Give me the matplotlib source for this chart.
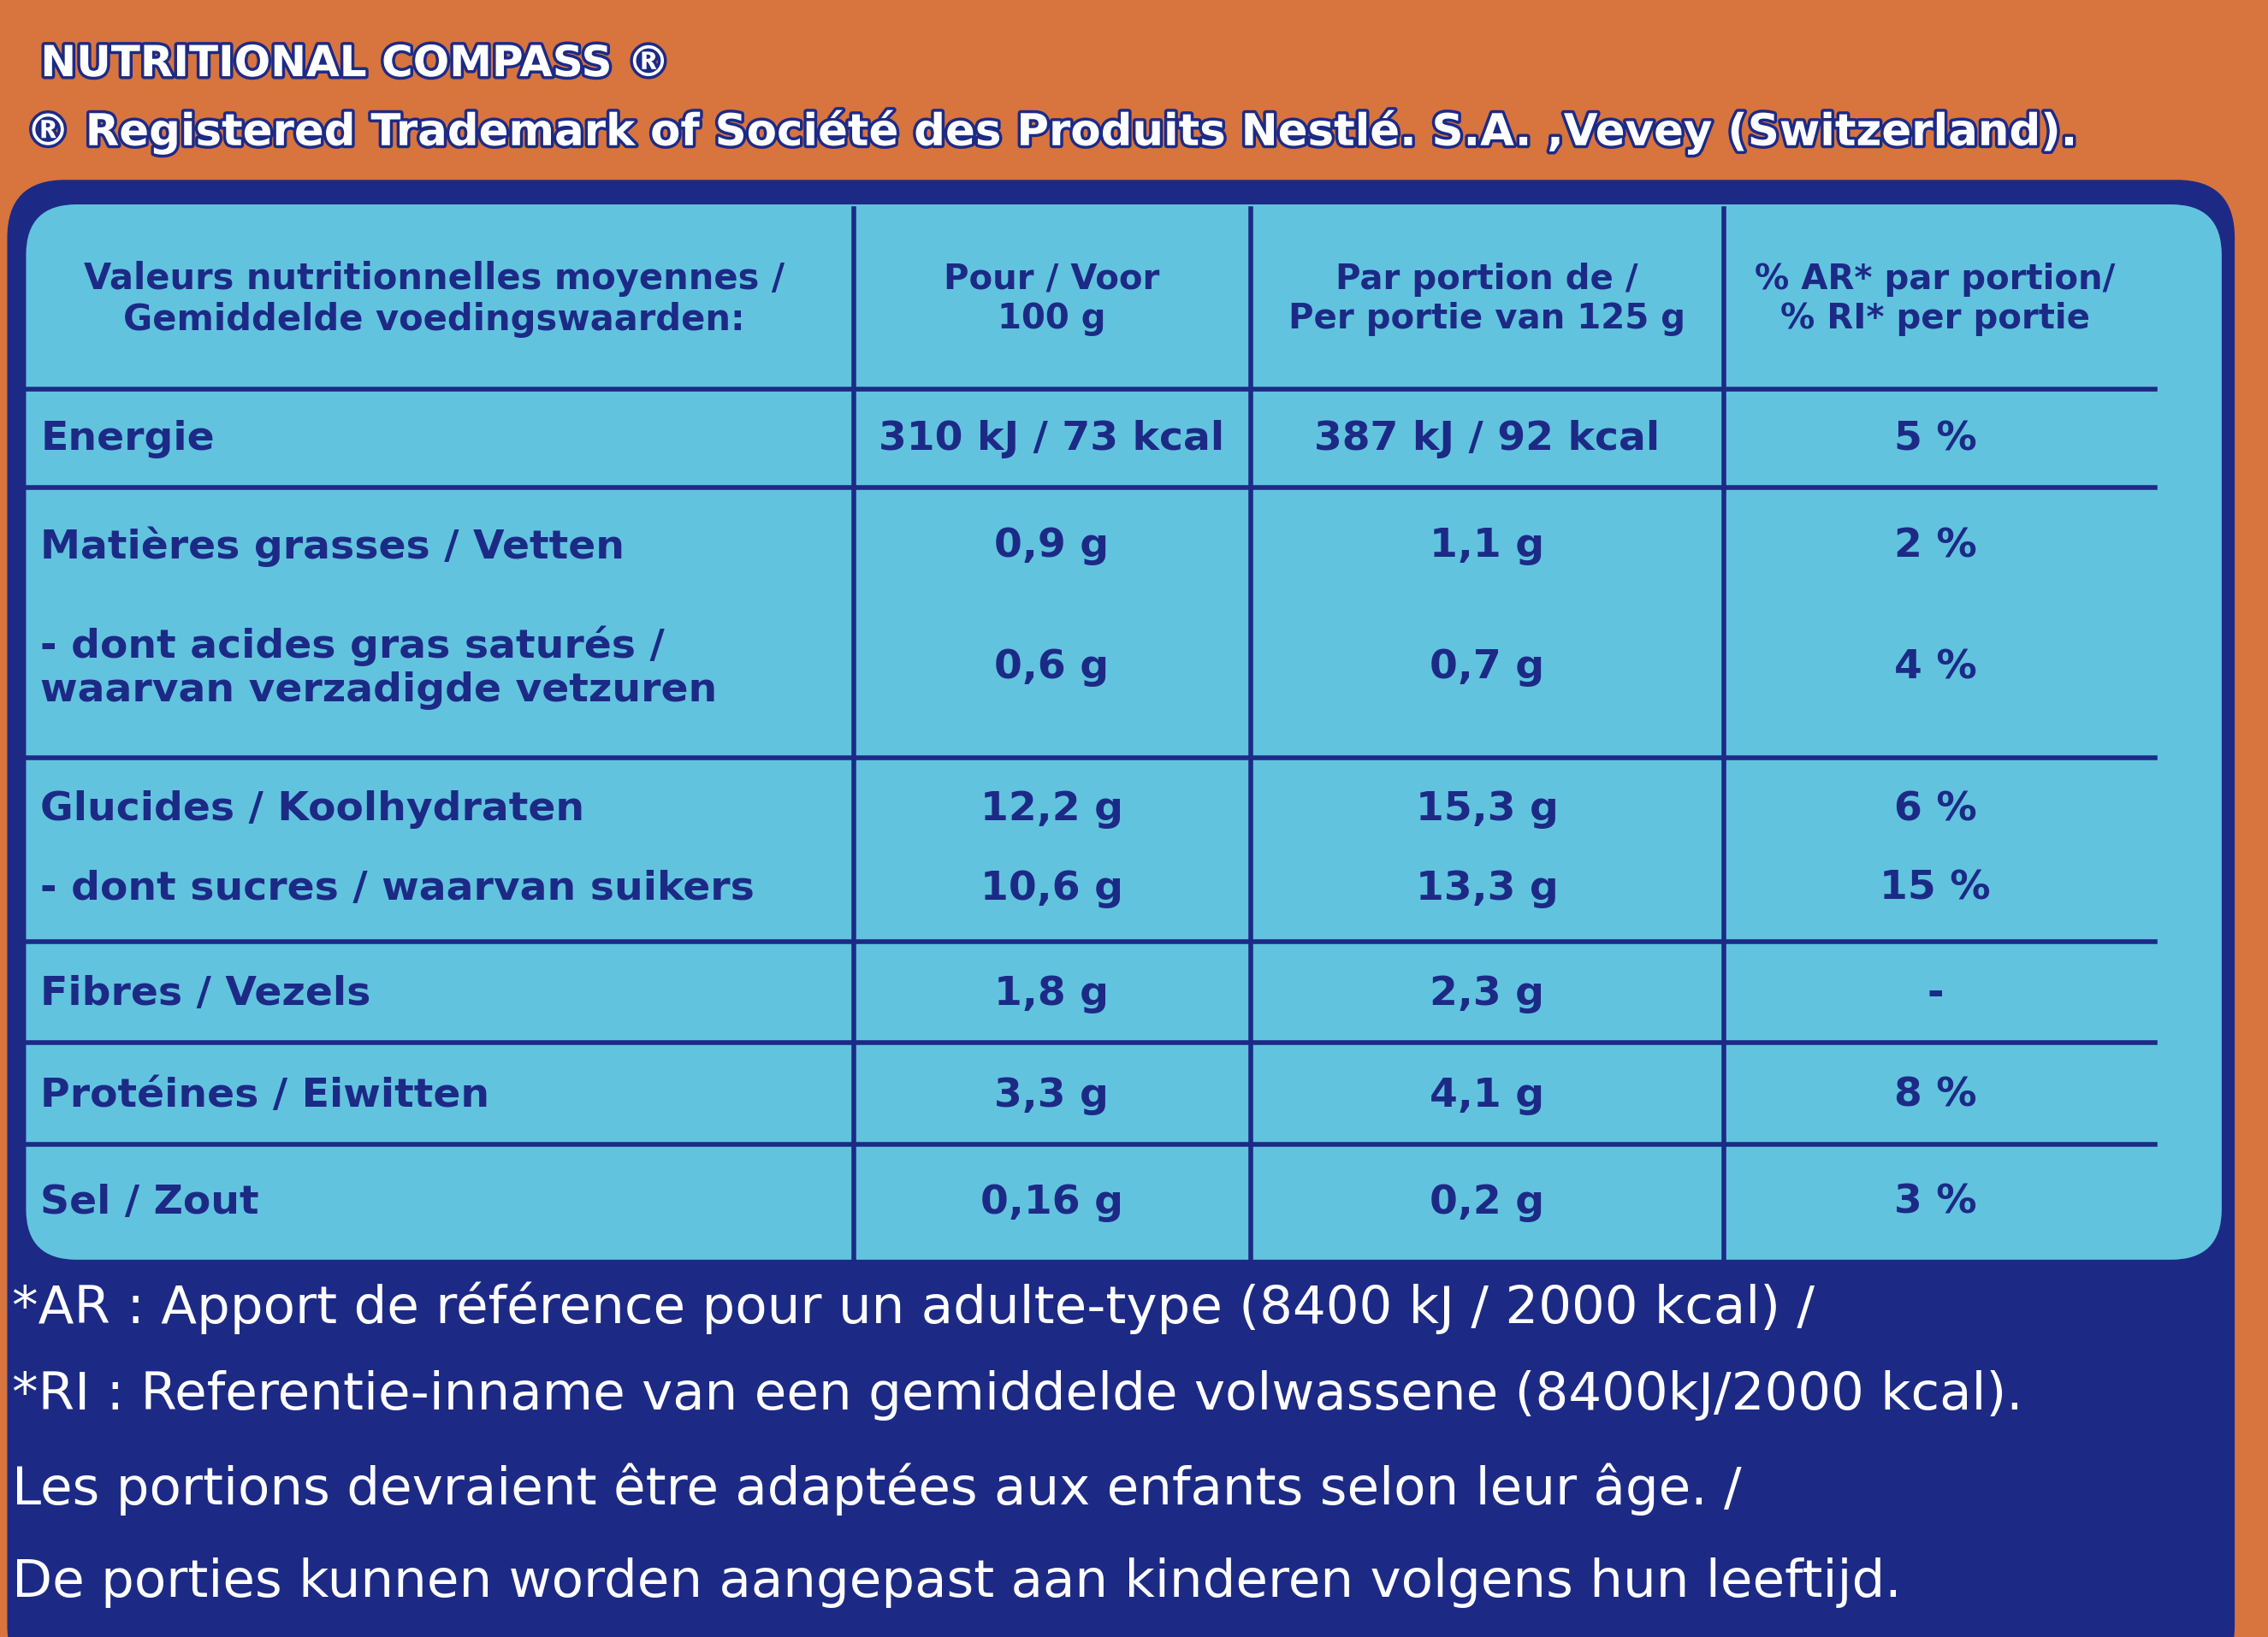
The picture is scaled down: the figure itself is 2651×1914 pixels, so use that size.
import matplotlib.pyplot as plt
import matplotlib.patheffects as pe
from matplotlib.patches import FancyBboxPatch

# table content
header = ["Valeurs nutritionnelles moyennes /\nGemiddelde voedingswaarden:",
          "Pour / Voor\n100 g",
          "Par portion de /\nPer portie van 125 g",
          "% AR* par portion/\n% RI* per portie"]
nutrients = ["Energie", "Matières grasses / Vetten",
             "- dont acides gras saturés /\nwaarvan verzadigde vetzuren",
             "Glucides / Koolhydraten", "- dont sucres / waarvan suikers",
             "Fibres / Vezels", "Protéines / Eiwitten", "Sel / Zout"]
per_100g = ["310 kJ / 73 kcal", "0,9 g", "0,6 g", "12,2 g", "10,6 g",
            "1,8 g", "3,3 g", "0,16 g"]
per_portion = ["387 kJ / 92 kcal", "1,1 g", "0,7 g", "15,3 g", "13,3 g",
               "2,3 g", "4,1 g", "0,2 g"]
ri_pct = ["5 %", "2 %", "4 %", "6 %", "15 %", "-", "8 %", "3 %"]
footer = ["*AR : Apport de référence pour un adulte-type (8400 kJ / 2000 kcal) /",
          "*RI : Referentie-inname van een gemiddelde volwassene (8400kJ/2000 kcal).",
          "Les portions devraient être adaptées aux enfants selon leur âge. /",
          "De porties kunnen worden aangepast aan kinderen volgens hun leeftijd."]

NAVY = "#1c2a86"
CYAN = "#62c3de"
ORANGE = "#d8743e"
narrow = ["Liberation Sans Narrow", "DejaVu Sans"]

fig = plt.figure(figsize=(26.51, 19.15), dpi=100)
fig.patch.set_facecolor(ORANGE)
ax = fig.add_axes([0, 0, 1, 1])
ax.set_xlim(0, 1568)
ax.set_ylim(1133, 0)
ax.axis("off")

# title lines
stroke = [pe.withStroke(linewidth=5, foreground=NAVY)]
ax.text(28, 45, "NUTRITIONAL COMPASS ®", color="white", fontsize=36,
        fontweight="bold", va="center", family="DejaVu Sans", path_effects=stroke)
ax.text(18, 92, "® Registered Trademark of Société des Produits Nestlé. S.A. ,Vevey (Switzerland).",
        color="white", fontsize=37, fontweight="bold", va="center", family=narrow,
        path_effects=stroke)

# navy panel and cyan table
ax.add_patch(FancyBboxPatch((5, 125), 1540, 1040, boxstyle="round,pad=0,rounding_size=40",
                            fc=NAVY, ec="none"))
ax.add_patch(FancyBboxPatch((18, 142), 1518, 730, boxstyle="round,pad=0,rounding_size=35",
                            fc=CYAN, ec="none"))

col_x = [590, 865, 1192]
for x in col_x:
    ax.plot([x, x], [145, 872], color=NAVY, lw=4)
row_y = [270, 338, 525, 652, 722, 792]
for y in row_y:
    ax.plot([18, 1490], [y, y], color=NAVY, lw=4)

fs = 30
ax.text(300, 207, header[0], color=NAVY, fontsize=fs, ha="center", va="center",
        family=narrow, fontweight="bold", linespacing=1.2)
centers = [727, 1028, 1338]
for cx, h in zip(centers, header[1:]):
    ax.text(cx, 207, h, color=NAVY, fontsize=fs - 1, ha="center", va="center",
            family=narrow, fontweight="bold", linespacing=1.2)

row_centers = [304, 378, 462, 560, 615, 688, 758, 832]
for yc, name, a, b, c in zip(row_centers, nutrients, per_100g, per_portion, ri_pct):
    ax.text(28, yc, name, color=NAVY, fontsize=34, va="center", family=narrow,
            fontweight="bold", linespacing=1.15)
    for cx, v in zip(centers, [a, b, c]):
        ax.text(cx, yc, v, color=NAVY, fontsize=34, ha="center", va="center",
                family=narrow, fontweight="bold")

for y, line in zip([905, 965, 1030, 1095], footer):
    ax.text(8, y, line, color="white", fontsize=44, va="center", family="DejaVu Sans")

fig.savefig("out.png", dpi=100, facecolor=fig.get_facecolor())
